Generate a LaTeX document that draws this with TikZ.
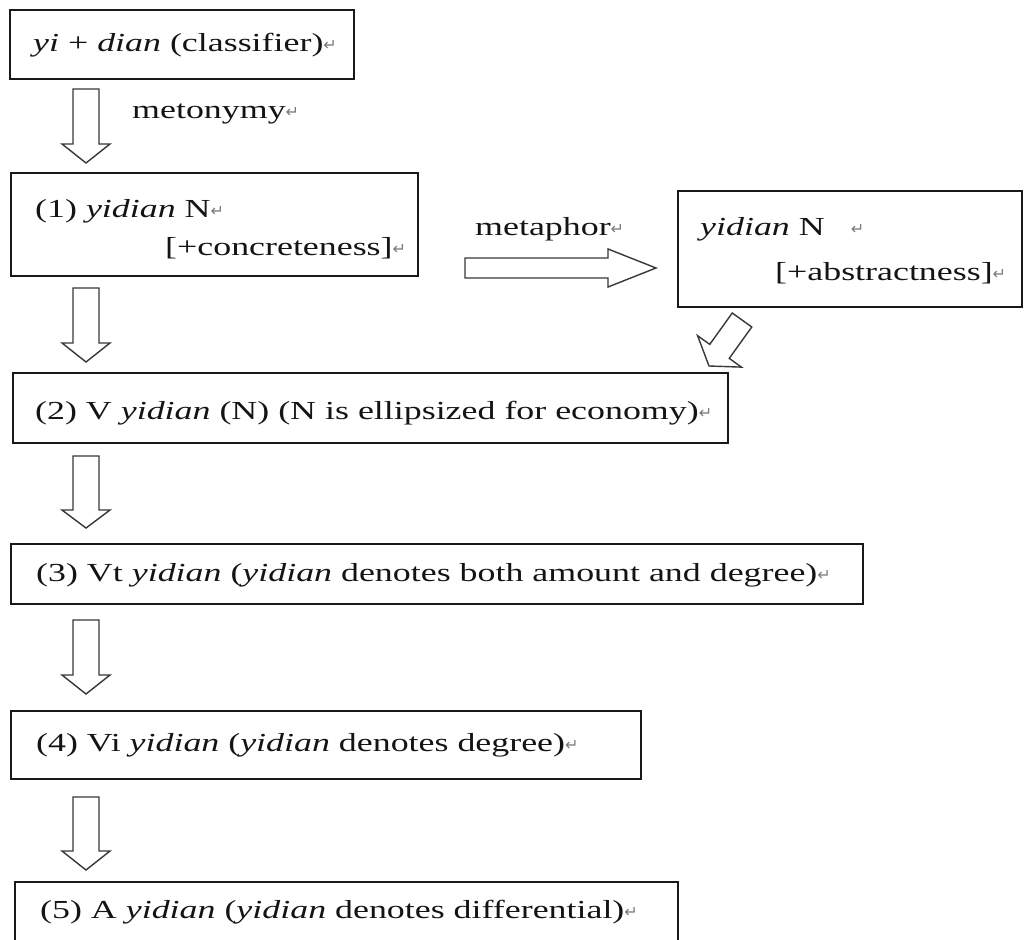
\documentclass[tikz,border=0pt]{standalone}
\usepackage{fontspec}
\setmainfont[FakeStretch=1.38]{Liberation Serif}
\newfontfamily\symfont{DejaVu Sans}
\usetikzlibrary{calc}
\definecolor{retgray}{HTML}{7A7A7A}
\newcommand\pmark{{\symfont\fontsize{16}{16}\selectfont\color{retgray}\raisebox{1pt}{↵}}}
\newcommand\blockarrow[5]{%
  \draw[arrowline] let \p1=(#1), \p2=(#2), \p3=($(#2)!#5!(#1)$) in
    ($(\p1)!#3!90:(\p2)$) -- ($(\p3)!#3!90:(\p2)$) -- ($(\p3)!#4!90:(\p2)$) -- (\p2)
    -- ($(\p3)!#4!-90:(\p2)$) -- ($(\p3)!#3!-90:(\p2)$) -- ($(\p1)!#3!-90:(\p2)$) -- cycle;}
\begin{document}
\begin{tikzpicture}[x=1pt,y=-1pt,
  box/.style={draw=black!90, line width=1.6pt, inner sep=0pt, anchor=north west},
  txt/.style={inner sep=0pt, anchor=base west, font=\fontsize{26}{30}\selectfont, text=black!92},
  arrowline/.style={draw=black!78, line width=1.4pt, fill=white, line join=miter}]
\useasboundingbox (0,0) rectangle (1027,939);
\clip (0,0) rectangle (1027,939);

% boxes
\node[box, minimum width=344pt, minimum height=69pt]  (b0) at (9,9) {};
\node[box, minimum width=407pt, minimum height=103pt] (b1) at (10,172) {};
\node[box, minimum width=344pt, minimum height=116pt] (bR) at (677,190) {};
\node[box, minimum width=715pt, minimum height=70pt]  (b2) at (12,372) {};
\node[box, minimum width=852pt, minimum height=60pt]  (b3) at (10,543) {};
\node[box, minimum width=630pt, minimum height=68pt]  (b4) at (10,710) {};
\node[box, minimum width=663pt, minimum height=75pt]  (b5) at (14,881) {};

% texts
\node[txt] (t0)  at (33,52)   {\textit{yi} + \textit{dian} (classifier)\pmark};
\node[txt] (tmy) at (132,118) {metonymy\pmark};
\node[txt] (t1a) at (35,217)  {(1) \textit{yidian} N\pmark};
\node[txt] (t1b) at (165,255) {[+concreteness]\pmark};
\node[txt] (tmp) at (475,235) {metaphor\pmark};
\node[txt] (tRa) at (700,235) {\textit{yidian} N\quad\pmark};
\node[txt] (tRb) at (775,280) {[+abstractness]\pmark};
\node[txt] (t2)  at (35,419)  {(2) V \textit{yidian} (N) (N is ellipsized for economy)\pmark};
\node[txt] (t3)  at (36,581)  {(3) Vt \textit{yidian} (\textit{yidian} denotes both amount and degree)\pmark};
\node[txt] (t4)  at (36,751)  {(4) Vi \textit{yidian} (\textit{yidian} denotes degree)\pmark};
\node[txt] (t5)  at (40,918)  {(5) A \textit{yidian} (\textit{yidian} denotes differential)\pmark};

% arrow end points
\coordinate (a1s) at (86,89);  \coordinate (a1e) at (86,163);
\coordinate (a2s) at (86,288); \coordinate (a2e) at (86,362);
\coordinate (a3s) at (86,456); \coordinate (a3e) at (86,528);
\coordinate (a4s) at (86,620); \coordinate (a4e) at (86,694);
\coordinate (a5s) at (86,797); \coordinate (a5e) at (86,870);
\coordinate (ms)  at (465,268); \coordinate (me) at (656,268);
\coordinate (ds)  at (742,320); \coordinate (de) at (709,366);

\blockarrow{a1s}{a1e}{13pt}{24pt}{19pt}
\blockarrow{a2s}{a2e}{13pt}{24pt}{19pt}
\blockarrow{a3s}{a3e}{13pt}{24pt}{18pt}
\blockarrow{a4s}{a4e}{13pt}{24pt}{19pt}
\blockarrow{a5s}{a5e}{13pt}{24pt}{19pt}
\blockarrow{ms}{me}{10pt}{19pt}{48pt}
\blockarrow{ds}{de}{12pt}{27pt}{18pt}
\end{tikzpicture}
\end{document}
